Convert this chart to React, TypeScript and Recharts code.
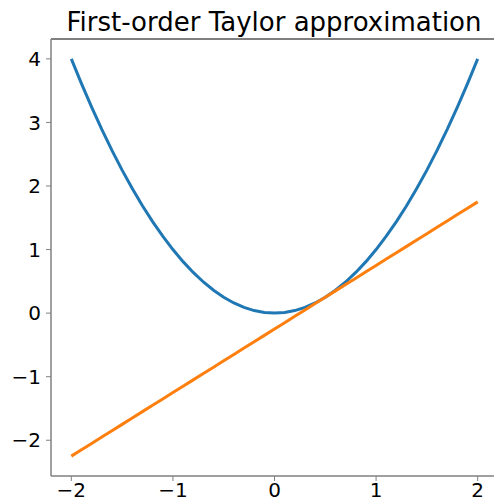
import React from "react";
import { Line, LineChart, ReferenceLine, XAxis, YAxis } from "recharts";

const xs = [
  -2, -1.9, -1.8, -1.7, -1.6, -1.5, -1.4, -1.3, -1.2, -1.1, -1, -0.9, -0.8, -0.7, -0.6, -0.5, -0.4, -0.3, -0.2, -0.1, 0,
  0.1, 0.2, 0.3, 0.4, 0.5, 0.6, 0.7, 0.8, 0.9, 1, 1.1, 1.2, 1.3, 1.4, 1.5, 1.6, 1.7, 1.8, 1.9, 2,
];
const curve = [
  4, 3.61, 3.24, 2.89, 2.56, 2.25, 1.96, 1.69, 1.44, 1.21, 1, 0.81, 0.64, 0.49, 0.36, 0.25, 0.16, 0.09, 0.04, 0.01, 0,
  0.01, 0.04, 0.09, 0.16, 0.25, 0.36, 0.49, 0.64, 0.81, 1, 1.21, 1.44, 1.69, 1.96, 2.25, 2.56, 2.89, 3.24, 3.61, 4,
];
const tangent = [
  -2.25, -2.15, -2.05, -1.95, -1.85, -1.75, -1.65, -1.55, -1.45, -1.35, -1.25, -1.15, -1.05, -0.95, -0.85, -0.75, -0.65,
  -0.55, -0.45, -0.35, -0.25, -0.15, -0.05, 0.05, 0.15, 0.25, 0.35, 0.45, 0.55, 0.65, 0.75, 0.85, 0.95, 1.05, 1.15, 1.25,
  1.35, 1.45, 1.55, 1.65, 1.75,
];
const xTicks = [-2, -1, 0, 1, 2];
const yTicks = [-2, -1, 0, 1, 2, 3, 4];

const data = xs.map((x, i) => ({ x, curve: curve[i], tangent: tangent[i] }));

const fmt = (v: number) => (v < 0 ? `\u2212${Math.abs(v)}` : `${v}`);
const font = "DejaVu Sans, sans-serif";
const tickStyle = { fill: "#000", fontSize: 20, fontFamily: font };

export default function App() {
  return (
    <div style={{ position: "fixed", top: 0, left: 0, width: 494, height: 502, overflow: "hidden", background: "#fff" }}>
      <div
        style={{
          position: "absolute",
          top: 7,
          left: 51,
          width: 446,
          textAlign: "center",
          fontFamily: font,
          fontSize: 26,
          color: "#000",
          whiteSpace: "nowrap",
        }}
      >
        First-order Taylor approximation
      </div>
      <LineChart width={530} height={502} data={data} margin={{ top: 39, right: 32, left: 0, bottom: 0 }}>
        <XAxis
          dataKey="x"
          type="number"
          domain={[-2.2, 2.2]}
          ticks={xTicks}
          tickFormatter={fmt}
          allowDataOverflow
          height={26}
          tickSize={5}
          tickMargin={2}
          tick={tickStyle}
          axisLine={{ stroke: "#808080", strokeWidth: 1.5 }}
          tickLine={{ stroke: "#808080" }}
        />
        <YAxis
          type="number"
          domain={[-2.5625, 4.3125]}
          ticks={yTicks}
          tickFormatter={fmt}
          allowDataOverflow
          width={51}
          tickSize={5}
          tickMargin={5}
          tick={tickStyle}
          axisLine={{ stroke: "#808080", strokeWidth: 1.5 }}
          tickLine={{ stroke: "#808080" }}
        />
        <ReferenceLine y={4.3125} stroke="#000" strokeWidth={1} />
        <Line dataKey="curve" stroke="#1f77b4" strokeWidth={3} dot={false} isAnimationActive={false} type="linear" />
        <Line dataKey="tangent" stroke="#ff7f0e" strokeWidth={3} dot={false} isAnimationActive={false} type="linear" />
      </LineChart>
    </div>
  );
}
